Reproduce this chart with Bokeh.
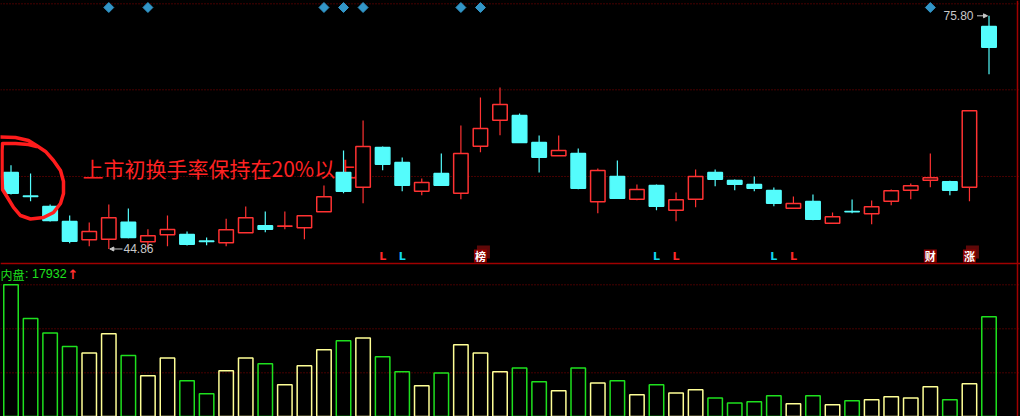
from bokeh.plotting import figure
from bokeh.models import Range1d, Span, Arrow, NormalHead, GlobalInlineStyleSheet
from bokeh.core.properties import value
from bokeh.embed import file_html
from bokeh.resources import INLINE

# ---------------- data ----------------
opens = [55.01, 51.90, 50.50, 48.51, 46.08, 46.16, 48.42, 45.81, 46.74, 46.78,
         45.92, 45.68, 47.01, 47.94, 47.88, 47.67, 49.80, 55.01, 53.06, 58.33,
         56.34, 52.53, 54.88, 52.26, 58.50, 61.95, 62.57, 58.99, 57.22, 57.53,
         51.12, 54.48, 51.47, 53.28, 50.01, 51.47, 55.01, 53.95, 53.42, 52.62,
         50.27, 51.16, 48.28, 49.84, 49.53, 51.20, 52.66, 53.99, 53.78, 53.06,
         74.38]
highs = [55.98, 54.88, 50.76, 49.30, 48.38, 50.76, 50.23, 47.49, 49.30, 47.18,
         46.39, 48.87, 50.50, 49.84, 49.84, 49.26, 53.28, 57.93, 61.91, 58.46,
         57.00, 54.21, 57.53, 61.25, 64.96, 66.29, 62.84, 59.92, 59.92, 58.19,
         55.54, 56.60, 53.42, 53.42, 52.36, 55.41, 55.41, 54.08, 54.48, 53.02,
         51.83, 52.09, 49.70, 51.43, 51.29, 52.75, 53.55, 57.53, 53.91, 63.19,
         75.80]
lows = [52.09, 51.20, 48.51, 45.63, 45.23, 44.86, 46.30, 45.02, 45.23, 45.32,
        45.36, 45.23, 47.01, 47.09, 47.49, 46.16, 49.80, 52.26, 50.94, 55.31,
        52.53, 52.00, 53.32, 51.47, 57.70, 59.96, 58.99, 55.01, 57.22, 52.79,
        49.61, 51.60, 51.33, 50.01, 48.55, 50.41, 53.19, 52.66, 52.53, 50.54,
        50.27, 48.68, 48.28, 49.61, 48.15, 50.67, 51.47, 53.06, 52.00, 51.20,
        68.05]
closes = [52.26, 51.84, 48.64, 45.89, 47.18, 49.00, 46.39, 46.61, 47.45, 45.50,
          45.86, 47.41, 49.00, 47.49, 47.92, 49.26, 51.79, 52.53, 58.46, 56.11,
          53.32, 53.68, 53.32, 57.53, 60.85, 64.03, 58.99, 57.04, 57.93, 52.93,
          55.27, 51.60, 52.75, 50.54, 51.39, 54.48, 54.12, 53.46, 52.93, 50.94,
          50.90, 48.81, 49.13, 49.80, 50.46, 52.58, 53.24, 54.31, 52.66, 63.19,
          71.63]
volumes = [47400, 35300, 30100, 25200, 22900, 29800, 22000, 14700, 21100, 12900,
           8200, 16500, 21100, 19000, 11400, 18300, 24000, 27300, 28300, 21500,
           16100, 11100, 15700, 25800, 22900, 16100, 17500, 12500, 9300, 17500,
           12100, 12900, 7800, 11400, 8500, 9600, 6700, 4900, 5300, 7500,
           4600, 7500, 4200, 5700, 6000, 7100, 6700, 10700, 6000, 11800,
           35900]
inner_volume = 17932
diamond_days = [5, 7, 16, 17, 18, 23, 24, 47]
red_l_days = [19, 34, 40]
cyan_l_days = [20, 33, 39]
event_days = [24, 47, 49]
event_texts = ["榜", "财", "涨"]
event_stacked = [True, False, True]
note_text = "上市初换手率保持在20%以上"
price_grid = [77.39, 65.98, 54.48]
volume_grid = [15732, 31572, 47412]
ring_x = [-0.537, 0.230, 0.895, 1.304, 1.764, 2.173, 2.531, 2.684, 2.684, 2.531,
          2.173, 1.662, 0.997, 0.486, 0.128, -0.179, -0.435, -0.460, -0.460, -0.435,
          0.230, 0.895, 1.304]
ring_y = [59.72, 59.65, 59.25, 58.59, 57.80, 56.60, 55.27, 53.81, 52.22, 50.90,
          49.70, 49.04, 48.84, 49.30, 50.37, 51.69, 52.75, 54.61, 57.93, 58.86,
          58.86, 58.72, 58.46]

# ---------------- styles ----------------
RED = "#ff3232"
CYAN = "#54fcfc"
GREEN = "#1ee01e"
YELLOW = "#ffff96"
GRID = "#8c0000"
SEP = "#a00000"
GRAY = "#c8c8c8"
DIAMOND = "#3296c8"

n = len(opens)
days = list(range(n))
up = [c >= o for o, c in zip(opens, closes)]
body_top = [max(o, c) for o, c in zip(opens, closes)]
body_bot = [min(o, c) for o, c in zip(opens, closes)]
ccol = [RED if u else CYAN for u in up]
cfill = ["black" if u else CYAN for u in up]
vcol = [YELLOW if u else GREEN for u in up]

p = figure(width=1020, height=416, output_backend="svg", toolbar_location=None,
           x_range=Range1d(-0.5368, 51.610), y_range=Range1d(22.635, 77.830),
           x_axis_location=None, y_axis_location=None, min_border=0,
           background_fill_color="black", border_fill_color="black",
           outline_line_color=None)
p.extra_y_ranges = {"vol": Range1d(0, 149760)}
p.grid.visible = False
p.stylesheets = [GlobalInlineStyleSheet(
    css="html,body{margin:0;padding:0;background:#000;overflow:hidden;}")]

# grid lines
for g in price_grid:
    p.add_layout(Span(location=g, dimension="width", line_color=GRID,
                      line_dash="1 2", line_width=1, level="underlay"))
for g in volume_grid:
    p.add_layout(Span(location=g, dimension="width", line_color=GRID,
                      line_dash="1 2", line_width=1, level="underlay",
                      y_range_name="vol"))
p.add_layout(Span(location=42.935, dimension="width", line_color=SEP,
                  line_width=1.5, level="underlay"))
p.add_layout(Span(location=51.457, dimension="height", line_color=SEP,
                  line_width=1.5, level="underlay"))

# note text (under candles)
p.text(x=[3.655], y=[55.67], text=[note_text], text_color="#ff2222",
       text_font=value("Noto Sans CJK SC"), text_font_size="21px",
       text_align="left", text_baseline="middle")

# volume bars
p.vbar(x=days, top=volumes, bottom=0, width=0.74, fill_color=None,
       line_color=vcol, line_width=1.5, y_range_name="vol")

# candles
p.segment(x0=days, y0=body_top, x1=days, y1=highs, line_color=ccol, line_width=1.2)
p.segment(x0=days, y0=lows, x1=days, y1=body_bot, line_color=ccol, line_width=1.2)
p.vbar(x=days, top=body_top, bottom=body_bot, width=0.74, fill_color=cfill,
       line_color=ccol, line_width=1.5)

# top diamonds
p.scatter(x=diamond_days, y=[76.90] * len(diamond_days), marker="square",
          angle=0.7854, size=7, fill_color=DIAMOND, line_color=DIAMOND)

# bottom L markers
p.text(x=red_l_days, y=[43.93] * len(red_l_days), text=["L"] * len(red_l_days),
       text_color="#ff2a2a", text_font=value("DejaVu Sans"), text_font_size="11px",
       text_font_style="bold", text_align="center", text_baseline="middle")
p.text(x=cyan_l_days, y=[43.93] * len(cyan_l_days), text=["L"] * len(cyan_l_days),
       text_color="#10d8f0", text_font=value("DejaVu Sans"), text_font_size="11px",
       text_font_style="bold", text_align="center", text_baseline="middle")

# event boxes
bx = [d + 3 / 19.56 for d, s in zip(event_days, event_stacked) if s]
p.rect(x=bx, y=[43.93 + 0.53] * len(bx), width=13, height=13,
       width_units="screen", height_units="screen", fill_color="#5e0808", line_color=None)
p.rect(x=event_days, y=[43.93] * len(event_days), width=13, height=13,
       width_units="screen", height_units="screen", fill_color="#8a0000", line_color=None)
p.text(x=event_days, y=[43.93] * len(event_days), text=event_texts,
       text_color="white", text_font=value("Noto Sans CJK SC"), text_font_size="11px",
       text_font_style="bold", text_align="center", text_baseline="middle")

# high / low labels
hi_i = highs.index(max(highs))
lo_i = lows.index(min(lows))
p.text(x=[hi_i], y=[highs[hi_i]], text=[f"{max(highs):.2f}"], x_offset=-15.5,
       text_color=GRAY, text_font=value("Liberation Sans"), text_font_size="12px",
       text_align="right", text_baseline="middle")
p.add_layout(Arrow(x_start=hi_i - 12 / 19.56, y_start=highs[hi_i],
                   x_end=hi_i - 1.5 / 19.56, y_end=highs[hi_i],
                   line_color=GRAY, line_width=1,
                   end=NormalHead(size=4, fill_color=GRAY, line_color=GRAY)))
p.text(x=[lo_i], y=[lows[lo_i]], text=[f"{min(lows):.2f}"], x_offset=14.7,
       text_color=GRAY, text_font=value("Liberation Sans"), text_font_size="12px",
       text_align="left", text_baseline="middle")
p.add_layout(Arrow(x_start=lo_i + 13.7 / 19.56, y_start=lows[lo_i],
                   x_end=lo_i + 1 / 19.56, y_end=lows[lo_i],
                   line_color=GRAY, line_width=1,
                   end=NormalHead(size=4, fill_color=GRAY, line_color=GRAY)))

# inner volume label
p.text(x=[-0.537], y=[41.54], text=["内盘"], text_color=GREEN,
       text_font=value("Noto Sans CJK SC"), text_font_size="12px",
       text_align="left", text_baseline="middle")
p.text(x=[-0.537], y=[41.54], text=[f": {inner_volume}"], x_offset=24.5,
       text_color=GREEN, text_font=value("Liberation Sans"), text_font_size="12.5px",
       text_align="left", text_baseline="middle")
p.text(x=[-0.537], y=[41.54], text=["↑"], x_offset=67,
       text_color="#ff3030", text_font=value("DejaVu Sans"), text_font_size="13px",
       text_font_style="bold", text_align="left", text_baseline="middle")

# hand-drawn ring
p.line(x=ring_x, y=ring_y, line_color="#ff1c1c", line_width=3.5,
       line_join="round", line_cap="round")

open("out.html", "w").write(file_html(p, INLINE))
